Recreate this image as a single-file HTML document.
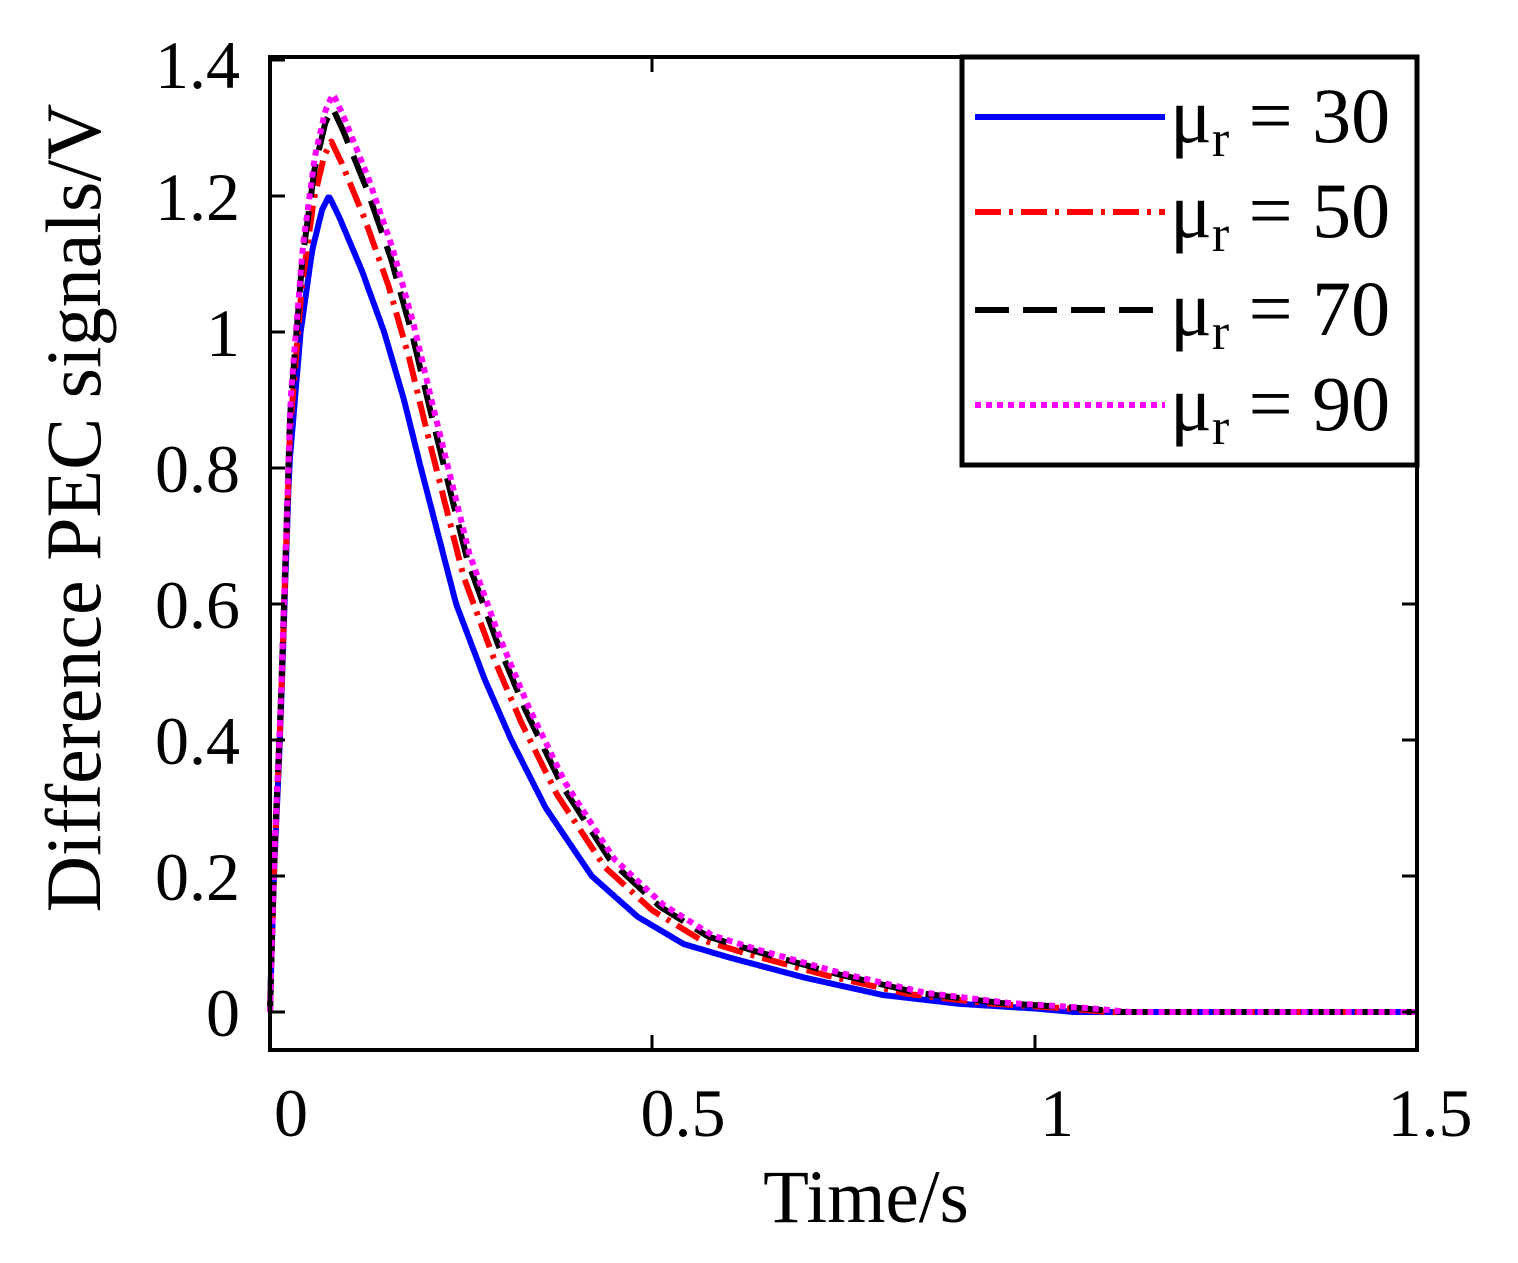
<!DOCTYPE html>
<html><head><meta charset="utf-8"><style>
html,body{margin:0;padding:0;background:#fff;}
svg{display:block;font-family:"Liberation Serif",serif;}
</style></head><body>
<svg id="s" width="1518" height="1263" viewBox="0 0 1518 1263" xmlns="http://www.w3.org/2000/svg">
<rect x="0" y="0" width="1518" height="1263" fill="#fff"/>
<g id="curves" fill="none" stroke-width="6" stroke-linejoin="round"></g>
<rect x="270" y="57" width="1147" height="993" fill="none" stroke="#000" stroke-width="4"/>
<g stroke="#000" stroke-width="3">
<line x1="652" y1="1050" x2="652" y2="1035"/><line x1="1035" y1="1050" x2="1035" y2="1035"/>
<line x1="652" y1="57" x2="652" y2="72"/><line x1="1035" y1="57" x2="1035" y2="72"/>
<line x1="270" y1="1012" x2="285" y2="1012"/><line x1="270" y1="876" x2="285" y2="876"/><line x1="270" y1="740" x2="285" y2="740"/><line x1="270" y1="604" x2="285" y2="604"/><line x1="270" y1="468" x2="285" y2="468"/><line x1="270" y1="332" x2="285" y2="332"/><line x1="270" y1="196" x2="285" y2="196"/><line x1="270" y1="60" x2="285" y2="60"/>
<line x1="1417" y1="1012" x2="1402" y2="1012"/><line x1="1417" y1="876" x2="1402" y2="876"/><line x1="1417" y1="740" x2="1402" y2="740"/><line x1="1417" y1="604" x2="1402" y2="604"/>
</g>
<g font-size="68" text-anchor="end" fill="#000">
<text x="240" y="1036">0</text><text x="240" y="900">0.2</text><text x="240" y="764">0.4</text><text x="240" y="628">0.6</text><text x="240" y="492">0.8</text><text x="240" y="356">1</text><text x="240" y="220">1.2</text><text x="240" y="88">1.4</text>
</g>
<g font-size="68" text-anchor="middle" fill="#000">
<text x="291" y="1136">0</text><text x="683" y="1136">0.5</text><text x="1057" y="1136">1</text><text x="1430" y="1136">1.5</text>
<text x="866" y="1222" font-size="75">Time/s</text>
<text transform="translate(100,508) rotate(-90)" font-size="78">Difference PEC signals/V</text>
</g>
<rect x="962" y="57" width="455" height="408" fill="#fff" stroke="#000" stroke-width="5"/>
<g stroke-width="6">
<line x1="975" y1="117" x2="1165" y2="117" stroke="#0000ff"/>
<line x1="975" y1="212" x2="1165" y2="212" stroke="#ff0000" stroke-dasharray="26 8 4 8"/>
<line x1="975" y1="310" x2="1165" y2="310" stroke="#000" stroke-dasharray="34 14"/>
<line x1="975" y1="405" x2="1165" y2="405" stroke="#ff00ff" stroke-dasharray="6 5"/>
</g>
<g font-size="78" fill="#000">
<text x="1170" y="142">μ<tspan font-size="52" dy="14">r</tspan><tspan dy="-14"> = 30</tspan></text>
<text x="1170" y="237">μ<tspan font-size="52" dy="14">r</tspan><tspan dy="-14"> = 50</tspan></text>
<text x="1170" y="335">μ<tspan font-size="52" dy="14">r</tspan><tspan dy="-14"> = 70</tspan></text>
<text x="1170" y="430">μ<tspan font-size="52" dy="14">r</tspan><tspan dy="-14"> = 90</tspan></text>
</g>
</svg>
<script>
var A=[[0,0],[0.005,0.2],[0.013,0.4],[0.025,0.8],[0.04,1.0],[0.055,1.12],[0.068,1.18],[0.077,1.2],[0.09,1.17],[0.12,1.09],[0.149,1.0],[0.175,0.9],[0.197,0.8],[0.22,0.7],[0.243,0.6],[0.28,0.49],[0.315,0.4],[0.36,0.3],[0.42,0.2],[0.48,0.14],[0.54,0.1],[0.6,0.08],[0.7,0.05],[0.8,0.025],[0.9,0.012],[1.0,0.005],[1.05,0],[1.5,0]];
function f(t){for(var i=1;i<A.length;i++){if(t<=A[i][0]){var a=A[i-1],b=A[i];return a[1]+(b[1]-a[1])*(t-a[0])/(b[0]-a[0]);}}return 0;}
var S=[["#0000ff",1,1,""],["#ff0000",1.067,1.04,"26 8 4 8"],["#000",1.108,1.06,"34 14"],["#ff00ff",1.125,1.07,"6 5"]];
var g=document.getElementById('curves'),h='';
S.forEach(function(s){var d='';for(var t=0;t<=1.5;t+=0.002){var v=s[1]*f(t/s[2]);var x=270+t*766,y=1012-v*680;d+=(d?'L':'M')+x.toFixed(1)+','+y.toFixed(1);}
h+='<path d="'+d+'" stroke="'+s[0]+'"'+(s[3]?' stroke-dasharray="'+s[3]+'"':'')+'/>';});
g.innerHTML=h;
</script>
</body></html>
